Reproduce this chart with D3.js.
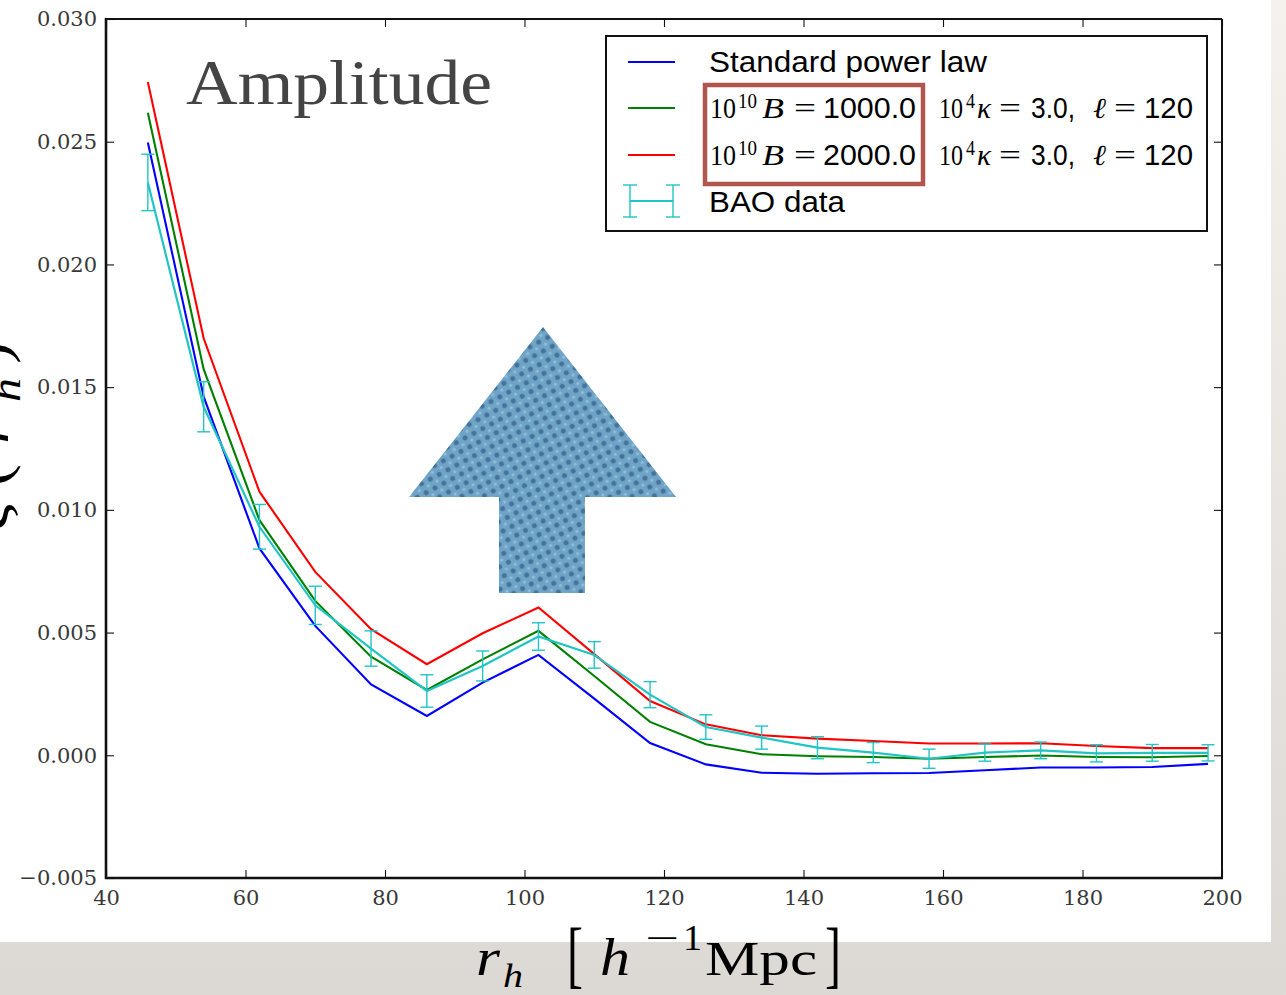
<!DOCTYPE html>
<html>
<head>
<meta charset="utf-8">
<script src="https://cdn.jsdelivr.net/npm/d3@7/dist/d3.min.js"></script>
<style>
  html, body { margin: 0; padding: 0; background: #e0ddd8; }
  svg { display: block; }
</style>
</head>
<body>
<script>
// Separation scale r_h (h^-1 Mpc)
const rh = [46, 54, 62, 70, 78, 86, 94, 102, 110, 118, 126, 134, 142, 150, 158, 166, 174, 182, 190, 198];

// Model correlation functions
const standardPowerLaw = [0.02497, 0.01461, 0.00843, 0.00527, 0.00289, 0.00160, 0.00296, 0.00409, 0.00231, 0.00050,
  -0.00037, -0.00071, -0.00075, -0.00073, -0.00072, -0.00061, -0.00050, -0.00050, -0.00048, -0.00035];
const modelB1000 = [0.02618, 0.01573, 0.00958, 0.00629, 0.00402, 0.00266, 0.00391, 0.00507, 0.00323, 0.00136,
  0.00045, 0.00004, -0.00004, -0.00007, -0.00014, -0.00007, -0.00001, -0.00007, -0.00008, -0.00003];
const modelB2000 = [0.02743, 0.01699, 0.01074, 0.00747, 0.00514, 0.00371, 0.00497, 0.00602, 0.00412, 0.00221,
  0.00126, 0.00082, 0.00068, 0.00058, 0.00048, 0.00048, 0.00049, 0.00038, 0.00029, 0.00029];

// Measured BAO correlation function and 1-sigma errors
const baoData = [0.02334, 0.01420, 0.00931, 0.00611, 0.00435, 0.00262, 0.00364, 0.00484, 0.00409, 0.00247,
  0.00115, 0.00072, 0.00031, 0.00011, -0.00014, 0.00011, 0.00020, 0.00008, 0.00010, 0.00010];
const baoError = [0.00115, 0.00102, 0.00091, 0.00078, 0.00072, 0.00066, 0.00061, 0.00056, 0.00054, 0.00053,
  0.00050, 0.00047, 0.00045, 0.00041, 0.00039, 0.00035, 0.00034, 0.00035, 0.00034, 0.00033];

// Axis ticks
const xTicks = [40, 60, 80, 100, 120, 140, 160, 180, 200];
const yTicks = [-0.005, 0.000, 0.005, 0.010, 0.015, 0.020, 0.025, 0.030];

// Up arrow annotation outline, in data units (r_h, xi)
const arrowR  = [102.65, 121.72, 108.67, 108.67, 96.34, 96.34, 83.44];
const arrowXi = [0.01745, 0.01052, 0.01052, 0.00661, 0.00661, 0.01052, 0.01052];

const W = 1286, H = 995;
const plot = { left: 106, right: 1222, top: 19, bottom: 878 };

const svg = d3.select("body").append("svg").attr("width", W).attr("height", H);
const defs = svg.append("defs");

// page backdrop
const grad = defs.append("linearGradient").attr("id", "backdrop").attr("x1", 0).attr("y1", 0).attr("x2", 0).attr("y2", 1);
grad.append("stop").attr("offset", "0%").attr("stop-color", "#f5f2ee");
grad.append("stop").attr("offset", "100%").attr("stop-color", "#dcd9d4");
svg.append("rect").attr("width", W).attr("height", H).attr("fill", "url(#backdrop)");
svg.append("rect").attr("width", 1271).attr("height", 942).attr("fill", "#ffffff");

// textured fill for the arrow
const pat = defs.append("pattern").attr("id", "weave").attr("patternUnits", "userSpaceOnUse")
  .attr("width", 10).attr("height", 10).attr("patternTransform", "rotate(-28)");
pat.append("rect").attr("width", 10).attr("height", 10).attr("fill", "#6fa4c7");
pat.append("circle").attr("cx", 5).attr("cy", 5).attr("r", 2.5).attr("fill", "#44729a");
[[0, 0], [10, 0], [0, 10], [10, 10]].forEach(([cx, cy]) =>
  pat.append("circle").attr("cx", cx).attr("cy", cy).attr("r", 1.6).attr("fill", "#8fc0dc"));

const x = d3.scaleLinear().domain([40, 200]).range([plot.left, plot.right]);
const y = d3.scaleLinear().domain([-0.005, 0.030]).range([plot.bottom, plot.top]);

// ----- axes (inward ticks on all four sides) -----
const tickFont = "'DejaVu Serif', serif";
const fmt = d3.format(".3f");

const gx = svg.append("g").attr("transform", `translate(0,${plot.bottom})`)
  .call(d3.axisBottom(x).tickValues(xTicks).tickSizeInner(-8).tickSizeOuter(0).tickPadding(12).tickFormat(d3.format("d")));
const gy = svg.append("g").attr("transform", `translate(${plot.left},0)`)
  .call(d3.axisLeft(y).tickValues(yTicks).tickSizeInner(-8).tickSizeOuter(0).tickPadding(9).tickFormat(fmt));
const gxt = svg.append("g").attr("transform", `translate(0,${plot.top})`)
  .call(d3.axisTop(x).tickValues(xTicks).tickSizeInner(-8).tickSizeOuter(0).tickFormat(""));
const gyr = svg.append("g").attr("transform", `translate(${plot.right},0)`)
  .call(d3.axisRight(y).tickValues(yTicks).tickSizeInner(-8).tickSizeOuter(0).tickFormat(""));

[gx, gy, gxt, gyr].forEach(g => {
  g.select(".domain").remove();
  g.selectAll(".tick line").attr("stroke", "#111").attr("stroke-width", 1.1);
  g.selectAll(".tick text").attr("fill", "#383838").style("font-family", tickFont).style("font-size", "21px");
});

// ----- arrow annotation -----
const arrowPts = arrowR.map((r, i) => [x(r), y(arrowXi[i])]);
svg.append("polygon").attr("points", arrowPts.map(p => p.join(",")).join(" "))
  .attr("fill", "url(#weave)");

// ----- model curves -----
const lineGen = d3.line().x((d, i) => x(rh[i])).y(d => y(d));
const series = [
  { values: standardPowerLaw, color: "#0000ff" },
  { values: modelB1000, color: "#008000" },
  { values: modelB2000, color: "#ff0000" }
];
series.forEach(s => {
  svg.append("path").datum(s.values).attr("d", lineGen)
    .attr("fill", "none").attr("stroke", s.color).attr("stroke-width", 2.1).attr("stroke-linejoin", "miter");
});

// ----- BAO data with error bars -----
const cyan = "#22c4c4";
const capHalf = 6.5;
const eb = svg.append("g");
rh.forEach((r, i) => {
  const cx = x(r), lo = y(baoData[i] - baoError[i]), hi = y(baoData[i] + baoError[i]);
  eb.append("line").attr("x1", cx).attr("x2", cx).attr("y1", lo).attr("y2", hi).attr("stroke", cyan).attr("stroke-width", 1.4);
  eb.append("line").attr("x1", cx - capHalf).attr("x2", cx + capHalf).attr("y1", lo).attr("y2", lo).attr("stroke", cyan).attr("stroke-width", 1.4);
  eb.append("line").attr("x1", cx - capHalf).attr("x2", cx + capHalf).attr("y1", hi).attr("y2", hi).attr("stroke", cyan).attr("stroke-width", 1.4);
});
svg.append("path").datum(baoData).attr("d", lineGen)
  .attr("fill", "none").attr("stroke", cyan).attr("stroke-width", 2.2);

// ----- spines -----
const sp = svg.append("g").attr("stroke", "#111").attr("fill", "none");
sp.append("line").attr("x1", plot.left).attr("x2", plot.right).attr("y1", plot.top).attr("y2", plot.top).attr("stroke-width", 1.8);
sp.append("line").attr("x1", plot.right).attr("x2", plot.right).attr("y1", plot.top).attr("y2", plot.bottom).attr("stroke-width", 2);
sp.append("line").attr("x1", plot.left).attr("x2", plot.left).attr("y1", plot.top - 1).attr("y2", plot.bottom + 1).attr("stroke-width", 2.6);
sp.append("line").attr("x1", plot.left - 1).attr("x2", plot.right + 1).attr("y1", plot.bottom).attr("y2", plot.bottom).attr("stroke-width", 2.6);

// ----- "Amplitude" title -----
svg.append("text").attr("x", 186).attr("y", 104)
  .attr("textLength", 306).attr("lengthAdjust", "spacingAndGlyphs")
  .style("font-family", "'Liberation Serif', serif").style("font-size", "64px").attr("fill", "#444")
  .text("Amplitude");

// ----- legend -----
const serif = "'Liberation Serif', serif";
const sans = "'Liberation Sans', Arial, sans-serif";
const lg = svg.append("g");
lg.append("rect").attr("x", 606).attr("y", 36).attr("width", 601).attr("height", 195)
  .attr("fill", "#fff").attr("stroke", "#111").attr("stroke-width", 2);

const rowY = [62, 108, 155, 201];
function piece(g, txt, px, py, opts) {
  const t = g.append("text").attr("x", px).attr("y", py).attr("fill", "#000")
    .style("font-family", opts.font).style("font-size", opts.size + "px")
    .style("font-style", opts.italic ? "italic" : "normal").text(txt);
  if (opts.len) t.attr("textLength", opts.len).attr("lengthAdjust", "spacingAndGlyphs");
  return t;
}
const legendNames = ["Standard power law", "BAO data"];
const bValues = ["1000.0", "2000.0"];

// sample lines
[series[0], series[1], series[2]].forEach((s, i) => {
  lg.append("line").attr("x1", 628).attr("x2", 675).attr("y1", rowY[i]).attr("y2", rowY[i])
    .attr("stroke", s.color).attr("stroke-width", 2.1);
});
// errorbar sample
{
  const yy = rowY[3];
  lg.append("line").attr("x1", 630).attr("x2", 673).attr("y1", yy).attr("y2", yy).attr("stroke", cyan).attr("stroke-width", 2.1);
  [630, 673].forEach(xx => {
    lg.append("line").attr("x1", xx).attr("x2", xx).attr("y1", yy - 16).attr("y2", yy + 16).attr("stroke", cyan).attr("stroke-width", 1.4);
    lg.append("line").attr("x1", xx - 7).attr("x2", xx + 7).attr("y1", yy - 16).attr("y2", yy - 16).attr("stroke", cyan).attr("stroke-width", 1.4);
    lg.append("line").attr("x1", xx - 7).attr("x2", xx + 7).attr("y1", yy + 16).attr("y2", yy + 16).attr("stroke", cyan).attr("stroke-width", 1.4);
  });
}
piece(lg, legendNames[0], 709, rowY[0] + 10, { font: sans, size: 29, len: 278 });
piece(lg, legendNames[1], 709, rowY[3] + 11, { font: sans, size: 29, len: 136 });

bValues.forEach((bv, k) => {
  const by = rowY[k + 1] + 10;
  piece(lg, "10", 710, by, { font: serif, size: 29, len: 26 });
  piece(lg, "10", 738, by - 10, { font: serif, size: 20, len: 19 });
  piece(lg, "B", 762, by, { font: serif, size: 29, italic: true, len: 22 });
  piece(lg, "=", 794, by, { font: serif, size: 29, len: 22 });
  piece(lg, bv, 823, by, { font: sans, size: 29, len: 93 });
  piece(lg, "10", 939, by, { font: serif, size: 29, len: 24 });
  piece(lg, "4", 966, by - 10, { font: serif, size: 20, len: 9 });
  piece(lg, "κ", 977, by, { font: serif, size: 29, italic: true, len: 14 });
  piece(lg, "=", 999, by, { font: serif, size: 29, len: 22 });
  piece(lg, "3.0,", 1031, by, { font: sans, size: 29, len: 44 });
  piece(lg, "ℓ", 1093, by, { font: serif, size: 29, italic: true, len: 13 });
  piece(lg, "=", 1114, by, { font: serif, size: 29, len: 22 });
  piece(lg, "120", 1144, by, { font: sans, size: 29, len: 49 });
});

// highlight box around the B parameter
lg.append("rect").attr("x", 705).attr("y", 85).attr("width", 218).attr("height", 99)
  .attr("fill", "none").attr("stroke", "#b0564e").attr("stroke-width", 4.5);

// ----- axis titles -----
const xl = svg.append("g").attr("fill", "#000");
piece(xl, "r", 476, 975, { font: serif, size: 52, italic: true, len: 24 });
piece(xl, "h", 503, 987, { font: serif, size: 34, italic: true, len: 20 });
piece(xl, "[", 567, 979, { font: serif, size: 75, len: 16 });
piece(xl, "h", 600, 975, { font: serif, size: 52, italic: true, len: 30 });
piece(xl, "−", 645, 950, { font: serif, size: 36, len: 34 });
piece(xl, "1", 683, 950, { font: serif, size: 36, len: 19 });
piece(xl, "Mpc", 705, 975, { font: serif, size: 48, len: 112 });
piece(xl, "]", 825, 979, { font: serif, size: 75, len: 16 });

// y title, rotated and running off the left edge
const yl = svg.append("g").attr("transform", "translate(8,530) rotate(-90)");
piece(yl, "ξ", 0, 0, { font: serif, size: 60, italic: true, len: 28 });
piece(yl, "(", 44, 0, { font: serif, size: 60, len: 22 });
piece(yl, "r", 86, 0, { font: serif, size: 60, italic: true, len: 26 });
piece(yl, "h", 128, 12, { font: serif, size: 42, italic: true, len: 24 });
piece(yl, ")", 166, 0, { font: serif, size: 60, len: 22 });
</script>
</body>
</html>
